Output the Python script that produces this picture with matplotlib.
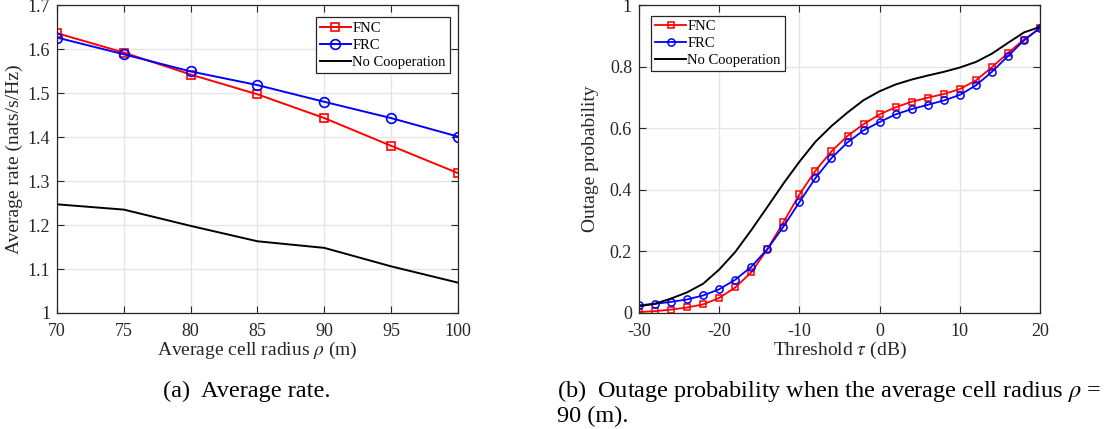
import matplotlib
matplotlib.use('Agg')
import matplotlib.pyplot as plt
import numpy as np

# (a) average rate vs cell radius
radius = [70, 75, 80, 85, 90, 95, 100]
rate_fnc = [1.636, 1.592, 1.542, 1.497, 1.443, 1.380, 1.318]
rate_frc = [1.626, 1.588, 1.549, 1.518, 1.480, 1.443, 1.401]
rate_noc = [1.247, 1.235, 1.198, 1.163, 1.148, 1.106, 1.069]

# (b) outage probability vs threshold
tau = list(range(-30, 21, 2))
out_fnc = [0.003, 0.006, 0.011, 0.018, 0.028, 0.049, 0.083, 0.132, 0.207, 0.294,
           0.385, 0.462, 0.525, 0.575, 0.613, 0.645, 0.668, 0.686, 0.699, 0.711,
           0.727, 0.755, 0.798, 0.844, 0.888, 0.924]
out_frc = [0.025, 0.030, 0.036, 0.044, 0.057, 0.077, 0.108, 0.150, 0.207, 0.280,
           0.360, 0.438, 0.503, 0.554, 0.593, 0.620, 0.645, 0.662, 0.676, 0.690,
           0.708, 0.739, 0.783, 0.834, 0.885, 0.926]
out_noc = [0.022, 0.030, 0.047, 0.067, 0.095, 0.141, 0.198, 0.269, 0.344, 0.420,
           0.491, 0.556, 0.607, 0.651, 0.691, 0.720, 0.742, 0.758, 0.771, 0.783,
           0.797, 0.815, 0.842, 0.877, 0.911, 0.929]

plt.rcParams['font.family'] = ['Liberation Serif', 'DejaVu Serif']
plt.rcParams['mathtext.fontset'] = 'stix'
plt.rcParams['axes.unicode_minus'] = False

txt = '#262626'
fig = plt.figure(figsize=(11.07, 4.29), dpi=100)
ax1 = fig.add_axes([0.0515, 0.2704, 0.3622, 0.7179])
ax2 = fig.add_axes([0.5772, 0.2704, 0.3623, 0.7179])


def style(ax):
    ax.grid(True, color='#e6e6e6', lw=1.0)
    ax.set_axisbelow(True)
    ax.tick_params(direction='in', top=True, right=True, labelsize=13,
                   colors=txt, length=5, width=0.8)
    ax.tick_params(axis='x', pad=7)
    ax.tick_params(axis='y', pad=5)
    for s in ax.spines.values():
        s.set_color('#262626')
        s.set_linewidth(0.9)


def legend(ax, **kw):
    leg = ax.legend(fontsize=10.5, fancybox=False, edgecolor='#262626', framealpha=1,
                    handlelength=2.1, handletextpad=0.1, borderpad=0.3,
                    labelspacing=0.25, borderaxespad=0, **kw)
    leg.get_frame().set_linewidth(0.9)
    return leg


ax1.plot(radius, rate_fnc, '-s', color='red', mfc='none', ms=5.5, mew=1.2, lw=1.4, label='FNC')
ax1.plot(radius, rate_frc, '-o', color='blue', mfc='none', ms=7, mew=1.2, lw=1.4, label='FRC')
ax1.plot(radius, rate_noc, '-', color='black', lw=1.4, label='No Cooperation')
ax1.set_xlim(70, 100)
ax1.set_ylim(1, 1.7)
ax1.set_xticks(radius)
ax1.set_yticks(np.arange(1, 1.71, 0.1))
ax1.set_yticklabels(['1', '1.1', '1.2', '1.3', '1.4', '1.5', '1.6', '1.7'])
ax1.set_xlabel(r'Average cell radius $\rho$ (m)', fontsize=14, color=txt, labelpad=0)
ax1.set_ylabel('Average rate (nats/s/Hz)', fontsize=14, color=txt, labelpad=3)
style(ax1)
legend(ax1, loc='upper right', bbox_to_anchor=(0.98, 0.96))

ax2.plot(tau, out_fnc, '-s', color='red', mfc='none', ms=4.2, mew=1.1, lw=1.3, label='FNC')
ax2.plot(tau, out_frc, '-o', color='blue', mfc='none', ms=5.2, mew=1.1, lw=1.3, label='FRC')
ax2.plot(tau, out_noc, '-', color='black', lw=1.4, label='No Cooperation')
ax2.set_xlim(-30, 20)
ax2.set_ylim(0, 1)
ax2.set_xticks([-30, -20, -10, 0, 10, 20])
ax2.set_yticks([0, 0.2, 0.4, 0.6, 0.8, 1])
ax2.set_yticklabels(['0', '0.2', '0.4', '0.6', '0.8', '1'])
ax2.set_xlabel(r'Threshold $\tau$ (dB)', fontsize=14, color=txt, labelpad=0)
ax2.set_ylabel('Outage probability', fontsize=14, color=txt, labelpad=8)
style(ax2)
legend(ax2, loc='upper left', bbox_to_anchor=(0.03, 0.965))

fig.text(0.147, 0.088, '(a)  Average rate.', fontsize=17.5, color='black', va='center')
fig.text(0.503, 0.088, r'(b)  Outage probability when the average cell radius $\rho$ =',
         fontsize=17.5, color='black', va='center')
fig.text(0.503, 0.030, '90 (m).', fontsize=17.5, color='black', va='center')

fig.savefig('out.png', dpi=100)
